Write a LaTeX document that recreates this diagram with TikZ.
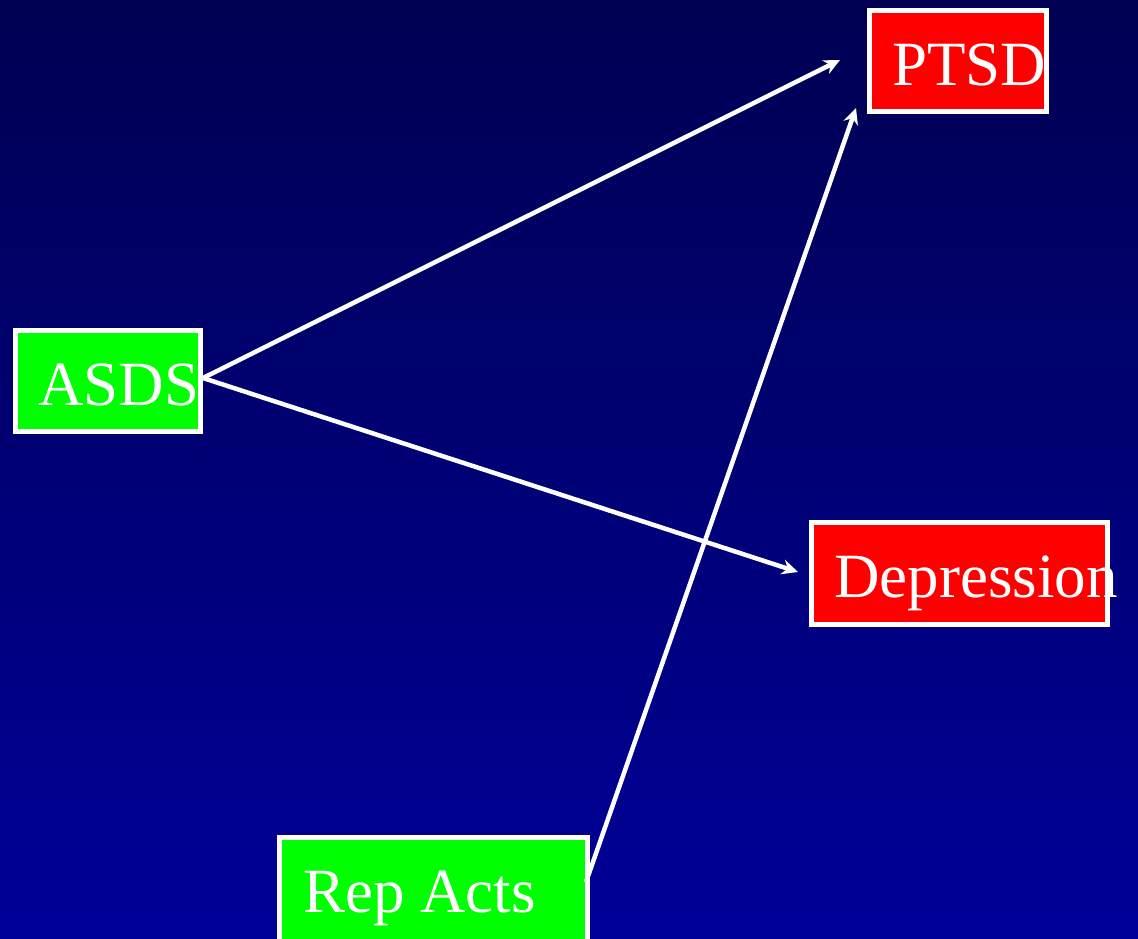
\documentclass[tikz,border=0pt]{standalone}
\usepackage{fontspec}
\setmainfont{Liberation Serif}
\usetikzlibrary{arrows.meta}
\definecolor{navytop}{RGB}{0,0,82}
\definecolor{navybot}{RGB}{0,0,152}
\definecolor{boxred}{RGB}{255,0,0}
\definecolor{boxgreen}{RGB}{0,255,0}
\tikzset{
  box/.style={draw=white, line width=5pt, inner sep=0pt, outer sep=0pt, anchor=north west},
  redbox/.style={box, fill=boxred},
  greenbox/.style={box, fill=boxgreen},
  lbl/.style={text=white, font=\fontsize{63}{63}\selectfont, anchor=base west, inner sep=0pt},
  link/.style={draw=white, line width=4.5pt, -{Stealth[length=16pt,width=15pt]}}
}
\begin{document}
\begin{tikzpicture}[x=1pt,y=-1pt]
  % backdrop
  \shade[top color=navytop, bottom color=navybot] (0,0) rectangle (1138,938);
  \useasboundingbox (0,0) rectangle (1138,938);

  % boxes
  \node[redbox, minimum width=177pt, minimum height=101pt] (ptsdbox) at (869.5,10.5) {};
  \node[redbox, minimum width=296pt, minimum height=102pt] (depbox) at (811.5,522.5) {};
  \node[greenbox, minimum width=185pt, minimum height=101pt] (asdsbox) at (15.5,330.5) {};
  \node[greenbox, minimum width=308pt, minimum height=120pt] (repbox) at (279.5,837.5) {};

  % labels
  \node[lbl] (ptsd) at (892,85) {PTSD};
  \node[lbl] (dep) at (834,597) {Depression};
  \node[lbl] (asds) at (38,405) {ASDS};
  \node[lbl] (rep) at (303,912) {Rep Acts};

  % arrow ends
  \coordinate (asdsout) at (203,378);
  \coordinate (repout) at (586,882);
  \coordinate (ptsdinA) at (840,60);
  \coordinate (ptsdinB) at (856,108);
  \coordinate (depin) at (798,572);

  % links
  \draw[link] (asdsout) -- (ptsdinA);
  \draw[link] (asdsout) -- (depin);
  \draw[link] (repout) -- (ptsdinB);
\end{tikzpicture}
\end{document}
